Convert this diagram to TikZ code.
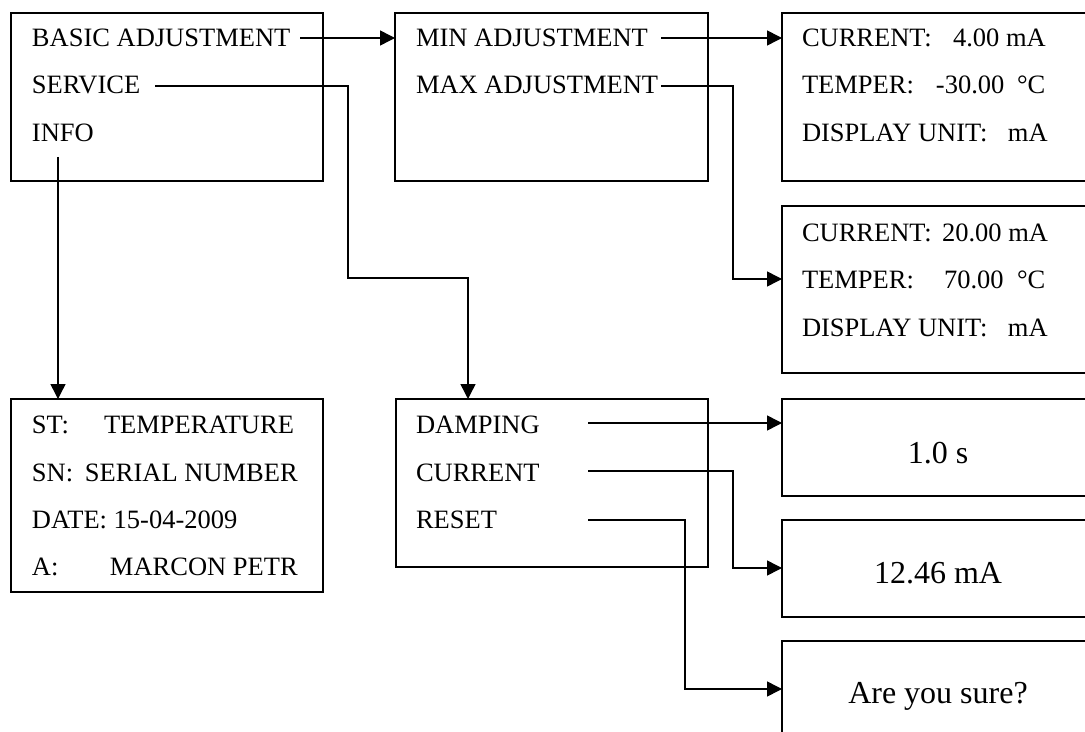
\documentclass[tikz,border=0pt]{standalone}
\usepackage{fontspec}
\setmainfont{Liberation Serif}
\usetikzlibrary{arrows.meta,calc}
\begin{document}
\begin{tikzpicture}[x=0.5pt,y=-0.5pt,
  box/.style={draw=black,line width=1pt,inner sep=0pt,outer sep=0pt,anchor=north west},
  txt/.style={anchor=base west,inner sep=0pt,outer sep=0pt,font=\fontsize{13.25pt}{16pt}\selectfont},
  ctxt/.style={anchor=base,inner sep=0pt,outer sep=0pt,font=\fontsize{16pt}{19pt}\selectfont},
  conn/.style={draw=black,line width=0.75pt},
  arr/.style={conn,-{Triangle[length=7.5pt,width=7.5pt]}}]
\useasboundingbox (0,0) rectangle (1085,732);
\clip (0,0) rectangle (1085,732);
\fill[white] (0,0) rectangle (1085,732);
% boxes
\node[box,minimum width=156pt,minimum height=84pt] (A) at (11,13) {};
\node[box,minimum width=156.5pt,minimum height=84pt] (B) at (395,13) {};
\node[box,minimum width=160pt,minimum height=84pt] (C1) at (782,13) {};
\node[box,minimum width=160pt,minimum height=83.5pt] (C2) at (782,206) {};
\node[box,minimum width=156pt,minimum height=96.5pt] (D) at (11,399) {};
\node[box,minimum width=156pt,minimum height=84pt] (E) at (396,399) {};
\node[box,minimum width=160pt,minimum height=48.5pt] (F1) at (782,399) {};
\node[box,minimum width=160pt,minimum height=48.5pt] (F2) at (782,520) {};
\node[box,minimum width=160pt,minimum height=48.5pt] (F3) at (782,641) {};
% texts A
\node[txt] (a1) at (32,47) {BASIC ADJUSTMENT};
\node[txt] (a2) at (32,94) {SERVICE};
\node[txt] (a3) at (32,142) {INFO};
% texts B
\node[txt] (b1) at (416,47) {MIN ADJUSTMENT};
\node[txt] (b2) at (416,94) {MAX ADJUSTMENT};
% texts C1
\node[txt] (c11) at (802,47) {\makebox[75.5pt][l]{CURRENT:}4.00 mA};
\node[txt] (c12) at (802,94) {\makebox[67pt][l]{TEMPER:}\makebox[40.5pt][l]{-30.00}°C};
\node[txt] (c13) at (802,142) {\makebox[103pt][l]{DISPLAY UNIT:}mA};
% texts C2
\node[txt] (c21) at (802,242) {\makebox[70pt][l]{CURRENT:}20.00 mA};
\node[txt] (c22) at (802,289) {\makebox[71pt][l]{TEMPER:}\makebox[36.5pt][l]{70.00}°C};
\node[txt] (c23) at (802,336) {\makebox[103pt][l]{DISPLAY UNIT:}mA};
% texts D
\node[txt] (d1) at (32,433) {\makebox[36pt][l]{ST:}TEMPERATURE};
\node[txt] (d2) at (32,481) {\makebox[26.5pt][l]{SN:}SERIAL NUMBER};
\node[txt] (d3) at (32,528) {DATE: 15-04-2009};
\node[txt] (d4) at (32,575) {\makebox[39pt][l]{A:}MARCON PETR};
% texts E
\node[txt] (e1) at (416,433) {DAMPING};
\node[txt] (e2) at (416,481) {CURRENT};
\node[txt] (e3) at (416,528) {RESET};
% texts F
\node[ctxt] (f1) at (938,463) {1.0 s};
\node[ctxt] (f2) at (938,583) {12.46 mA};
\node[ctxt] (f3) at (938,703) {Are you sure?};
% connector coordinates
\coordinate (sA1) at (300,38);
\coordinate (sA2) at (155,86);
\coordinate (kA2) at (348,278);
\coordinate (sA3) at (58,157);
\coordinate (sB1) at (661,38);
\coordinate (sB2) at (661,86);
\coordinate (kB2) at (733,279);
\coordinate (sE1) at (588,423);
\coordinate (sE2) at (588,471);
\coordinate (kE2) at (733,568);
\coordinate (sE3) at (588,520);
\coordinate (kE3) at (685,689);
% connectors
\draw[arr] (sA1) -- (sA1 -| B.west);
\draw[arr] (sA2) -| (kA2) -| ($(E.north west)+(72,0)$);
\draw[arr] (sA3) -- (sA3 |- D.north);
\draw[arr] (sB1) -- (sB1 -| C1.west);
\draw[arr] (sB2) -| (kB2) -- (kB2 -| C2.west);
\draw[arr] (sE1) -- (sE1 -| F1.west);
\draw[arr] (sE2) -| (kE2) -- (kE2 -| F2.west);
\draw[arr] (sE3) -| (kE3) -- (kE3 -| F3.west);
\end{tikzpicture}
\end{document}
